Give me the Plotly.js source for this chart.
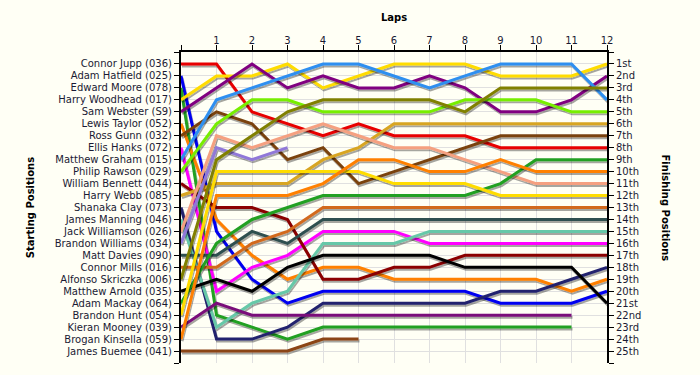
<!DOCTYPE html>
<html>
<head>
<meta charset="utf-8">
<script src="https://cdn.plot.ly/plotly-3.0.1.min.js"></script>
<style>
  html, body { margin: 0; padding: 0; background: #fffff5; }
  #chart { width: 700px; height: 375px; }
  .scatterlayer .js-line { filter: url(#lineShadow); }
</style>
</head>
<body>
<svg width="0" height="0" style="position:absolute">
  <defs>
    <filter id="lineShadow" filterUnits="userSpaceOnUse" x="-2000" y="-2000" width="6000" height="6000">
      <feDropShadow dx="1" dy="2" stdDeviation="0.5" flood-color="#000" flood-opacity="0.35"/>
    </filter>
  </defs>
</svg>
<div id="chart"></div>
<script>
// ---- data ----
const laps = [0, 1, 2, 3, 4, 5, 6, 7, 8, 9, 10, 11, 12];
const lapLabels = ["", "1", "2", "3", "4", "5", "6", "7", "8", "9", "10", "11", "12"];

const drivers = [
  "Connor Jupp (036)", "Adam Hatfield (025)", "Edward Moore (078)", "Harry Woodhead (017)",
  "Sam Webster (S9)", "Lewis Taylor (052)", "Ross Gunn (032)", "Ellis Hanks (072)",
  "Matthew Graham (015)", "Philip Rawson (029)", "William Bennett (044)", "Harry Webb (085)",
  "Shanaka Clay (073)", "James Manning (046)", "Jack Williamson (026)", "Brandon Williams (034)",
  "Matt Davies (090)", "Connor Mills (016)", "Alfonso Skriczka (006)", "Matthew Arnold (035)",
  "Adam Mackay (064)", "Brandon Hunt (054)", "Kieran Mooney (039)", "Brogan Kinsella (059)",
  "James Buemee (041)"
];

const finishLabels = [
  "1st", "2nd", "3rd", "4th", "5th", "6th", "7th", "8th", "9th", "10th", "11th", "12th", "13th",
  "14th", "15th", "16th", "17th", "18th", "19th", "20th", "21st", "22nd", "23rd", "24th", "25th"
];

// positions per lap (lap 0 = start), one list per driver in starting order
const posJupp       = [1, 1, 5, 6, 7, 6, 7, 7, 7, 8, 8, 8, 8];
const posHatfield   = [2, 15, 19, 21, 20, 20, 20, 20, 20, 21, 21, 21, 20];
const posMoore      = [3, 22, 23, 24, 23, 23, 23, 23, 23, 23, 23, 23];
const posWoodhead   = [4, 2, 2, 1, 3, 2, 1, 1, 1, 2, 2, 2, 1];
const posWebster    = [5, 3, 1, 3, 2, 3, 3, 2, 3, 5, 5, 4, 2];
const posTaylor     = [6, 14, 17, 19, 18, 18, 19, 19, 19, 19, 19, 20, 19];
const posGunn       = [7, 5, 6, 9, 8, 11, 10, 9, 8, 7, 7, 7, 7];
const posHanks      = [8, 20, 18, 17, 15, 15, 15, 16, 16, 16, 16, 16, 16];
const posGraham     = [9, 4, 3, 2, 1, 1, 2, 3, 2, 1, 1, 1, 4];
const posRawson     = [10, 6, 4, 4, 5, 5, 5, 5, 4, 4, 4, 5, 5];
const posBennett    = [11, 13, 13, 14, 19, 19, 18, 18, 17, 17, 17, 17, 17];
const posWebb       = [12, 11, 11, 11, 9, 8, 6, 6, 6, 6, 6, 6, 6];
const posClay       = [13, 24, 24, 23, 21, 21, 21, 21, 21, 20, 20, 19, 18];
const posManning    = [14, 23, 21, 20, 16, 16, 16, 15, 15, 15, 15, 15, 15];
const posWilliamson = [15, 7, 8, 7, 6, 7, 8, 8, 9, 10, 11, 11, 11];
const posBWilliams  = [16, 8, 9, 8];
const posDavies     = [17, 17, 15, 16, 14, 14, 14, 14, 14, 14, 14, 14, 14];
const posMills      = [18, 18, 16, 15, 13, 13, 13, 13, 13, 13, 13, 13, 13];
const posSkriczka   = [19, 9, 7, 5, 4, 4, 4, 4, 5, 3, 3, 3, 3];
const posArnold     = [20, 19, 20, 18, 17, 17, 17, 17, 18, 18, 18, 18, 21];
const posMackay     = [21, 16, 14, 13, 12, 12, 12, 12, 12, 11, 9, 9, 9];
const posHunt       = [22, 10, 10, 10, 10, 10, 11, 11, 11, 12, 12, 12, 12];
const posMooney     = [23, 21, 22, 22, 22, 22, 22, 22, 22, 22, 22, 22];
const posKinsella   = [24, 12, 12, 12, 11, 9, 9, 10, 10, 9, 10, 10, 10];
const posBuemee     = [25, 25, 25, 25, 24, 24];

const positions = [
  posJupp, posHatfield, posMoore, posWoodhead, posWebster, posTaylor, posGunn, posHanks,
  posGraham, posRawson, posBennett, posWebb, posClay, posManning, posWilliamson, posBWilliams,
  posDavies, posMills, posSkriczka, posArnold, posMackay, posHunt, posMooney, posKinsella, posBuemee
];

// ---- styles ----
const colors = [
  "#e80000", "#0000f0", "#20a020", "#ffdc00", "#800080", "#ff8000", "#7a4210", "#ff00ff",
  "#2f8ff0", "#77ee00", "#8b0000", "#d8a520", "#24246e", "#66c8a8", "#f5a080", "#9078d8",
  "#2f4f4f", "#d2691e", "#808000", "#000000", "#20a020", "#ffdc00", "#7a107a", "#ff8000",
  "#8b4513"
];

const posTicks = [];
const leftText = [];
const rightText = [];
for (let p = 0; p <= 26; p++) {
  posTicks.push(p);
  leftText.push(p >= 1 && p <= 25 ? drivers[p - 1] : "");
  rightText.push(p >= 1 && p <= 25 ? finishLabels[p - 1] : "");
}

const traces = drivers.map((name, i) => ({
  type: "scatter",
  mode: "lines",
  name: name,
  x: laps.slice(0, positions[i].length),
  y: positions[i],
  line: { color: colors[i], width: 3 },
  hoverinfo: "name+y",
  showlegend: false
}));
// anchor trace for the right-hand (finishing) axis
traces.push({
  type: "scatter", mode: "none", x: [laps[laps.length - 1]], y: [posWoodhead[posWoodhead.length - 1]],
  yaxis: "y2", hoverinfo: "skip", showlegend: false
});

const tickFont = { family: "DejaVu Sans, Verdana, sans-serif", size: 10, color: "#1a1a33" };
const titleFont = { family: "DejaVu Sans, Verdana, sans-serif", size: 10, color: "#000", weight: "bold" };

const layout = {
  width: 700, height: 375,
  paper_bgcolor: "#fffff5",
  plot_bgcolor: "#fffff5",
  margin: { l: 181, r: 93, t: 52, b: 12, pad: 0 },
  showlegend: false,
  xaxis: {
    side: "top",
    range: [0, 12],
    tickmode: "array", tickvals: laps, ticktext: lapLabels,
    ticks: "outside", ticklen: 5, tickwidth: 1, tickcolor: "#000",
    ticklabelstandoff: -3,
    showline: true, linecolor: "#000", linewidth: 2,
    showgrid: true, gridcolor: "#e0e0e0", gridwidth: 1,
    zeroline: false,
    tickfont: tickFont,
    title: { text: "Laps", font: titleFont, standoff: 12 },
    fixedrange: true
  },
  yaxis: {
    range: [26, 0],
    tickmode: "array", tickvals: posTicks, ticktext: leftText,
    ticks: "outside", ticklen: 5, tickwidth: 1, tickcolor: "#000",
    showline: true, linecolor: "#000", linewidth: 2,
    showgrid: true, gridcolor: "#e0e0e0", gridwidth: 1,
    zeroline: false,
    tickfont: tickFont,
    title: { text: "Starting Positions", font: titleFont, standoff: 18 },
    fixedrange: true
  },
  yaxis2: {
    overlaying: "y", side: "right", anchor: "x",
    range: [26, 0],
    tickmode: "array", tickvals: posTicks, ticktext: rightText,
    ticks: "outside", ticklen: 5, tickwidth: 1, tickcolor: "#000",
    showline: true, linecolor: "#000", linewidth: 2,
    showgrid: false, zeroline: false,
    tickfont: tickFont,
    fixedrange: true
  },
  annotations: [{
    text: "Finishing Positions",
    xref: "paper", yref: "paper",
    x: (665 - 181) / 426, y: 0.5,
    xanchor: "center", yanchor: "middle",
    textangle: 90, showarrow: false,
    font: titleFont
  }]
};

Plotly.newPlot("chart", traces, layout, { displayModeBar: false, responsive: false });
</script>
</body>
</html>
